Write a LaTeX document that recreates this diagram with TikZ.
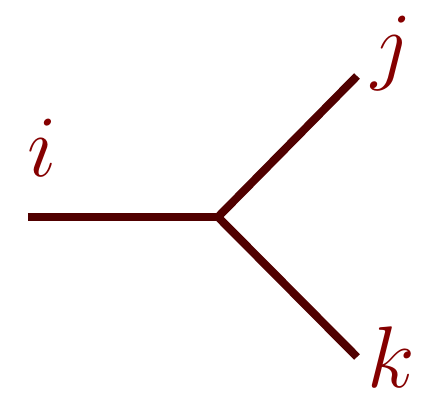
\documentclass[tikz,border=0pt]{standalone}
\usepackage{amsmath,amssymb}
\usepackage{tikz}
\usetikzlibrary{positioning,calc}
\definecolor{legcol}{HTML}{500000}
\definecolor{lblcol}{HTML}{850000}

\begin{document}
\begin{tikzpicture}[
    leg/.style={draw=legcol, line width=2.3pt, line cap=butt},
    lbl/.style={text=lblcol, inner sep=0pt, font=\fontsize{29}{34}\selectfont}
]
\useasboundingbox (0,0) rectangle (4.24,3.98);
\coordinate (V) at (2.18,1.81);
\coordinate (I) at (0.28,1.81);
\coordinate (J) at (3.57,3.22);
\coordinate (K) at (3.57,0.41);

\node[lbl] (li) at (0.42,2.50) {$i$};
\node[lbl] (lj) at (3.92,3.45) {$j$};
\node[lbl] (lk) at (3.91,0.41) {$k$};

\draw[leg] (I) -- (V);
\draw[leg] (V) -- (J);
\draw[leg] (V) -- (K);
\end{tikzpicture}
\end{document}
